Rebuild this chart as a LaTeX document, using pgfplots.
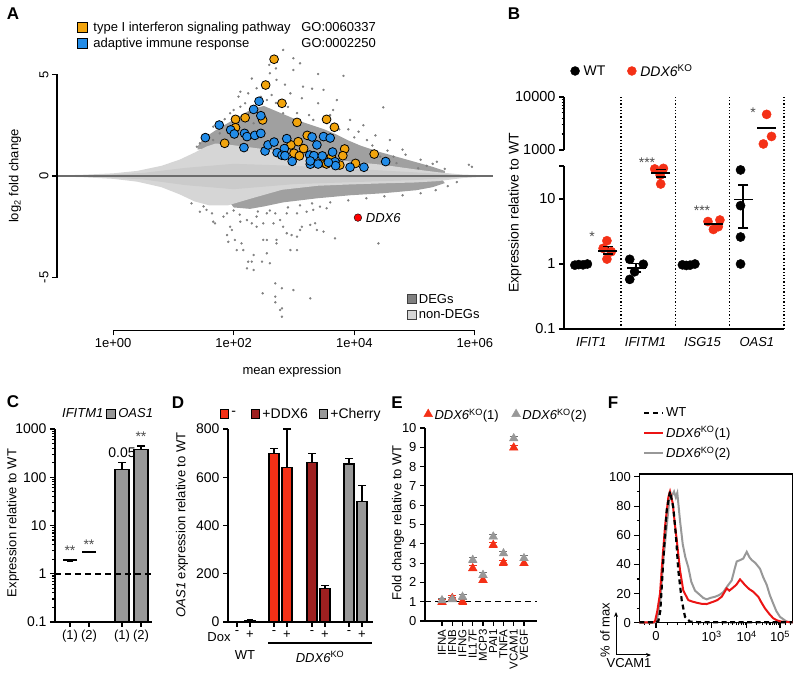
\documentclass[border=0pt]{standalone}
\usepackage{pgfplots}
\pgfplotsset{compat=1.18}
\usepackage{fontspec}
\setmainfont{Liberation Sans}
\usetikzlibrary{arrows.meta}
\newcommand{\fs}[1]{\fontsize{#1}{#1}\selectfont}
\newcommand{\lf}{\fs{13}}
\definecolor{cOr}{RGB}{242,164,12}
\definecolor{cBl}{RGB}{34,140,232}
\definecolor{cRed}{RGB}{244,48,22}
\definecolor{cDred}{RGB}{158,32,32}
\definecolor{cGr}{RGB}{152,152,152}
\definecolor{cDeg}{RGB}{128,128,128}
\definecolor{cBand}{RGB}{160,160,160}
\definecolor{cNon}{RGB}{214,214,214}
\definecolor{cCore}{RGB}{203,203,203}
\definecolor{cZero}{RGB}{108,108,108}
\definecolor{cFred}{RGB}{235,20,20}
\pgfplotsset{
  every axis/.append style={
    scale only axis, anchor=south west, clip=false,
    /pgf/number format/assume math mode=true,
    tick label style={font=\fs{13}},
    label style={font=\fs{13}},
    legend style={font=\fs{13}, draw=none, fill=none, inner sep=0pt, outer sep=0pt},
    legend cell align=left,
    tick style={black, line width=1.1pt},
    axis line style={black, line width=1.3pt},
    major tick length=5pt,
    minor tick length=2.5pt,
  },
}
\begin{document}
\begin{tikzpicture}
\path[use as bounding box] (0pt,0pt) rectangle (800pt,682pt);

%================ A ================
\begin{axis}[at={(57pt,351.7pt)}, width=436pt, height=288.3pt,
  xmin=-0.93, xmax=6.3, ymin=-7.6, ymax=6.6,
  axis x line*=bottom, axis y line*=left, axis line style={draw=none}, tick align=outside,
  xtick={0,2,4,6}, xticklabels={1e+00,1e+02,1e+04,1e+06},
  ytick={-5,0,5}, yticklabels={-5,0,5},
  yticklabel style={rotate=90, anchor=south},
  xlabel={mean expression}, ylabel={log\textsubscript{2} fold change},
  xlabel style={at={(axis description cs:0.539,0)}, anchor=north, yshift=-31pt},
  ylabel style={at={(axis description cs:-0.0963,0.535)}, anchor=center},
  legend style={at={(0.0459,1.0763)}, anchor=north west, row sep=1pt},
  legend image code/.code={\draw[#1, line width=0.8pt] (0pt,-4.8pt) rectangle (9.6pt,4.8pt);},
]
\addlegendimage{draw=black, fill=cOr}
\addlegendentry{\lf\hspace*{4pt}\makebox[208pt][l]{type I interferon signaling pathway}GO:0060337}
\addlegendimage{draw=black, fill=cBl}
\addlegendentry{\lf\hspace*{4pt}\makebox[208pt][l]{adaptive immune response}GO:0002250}
% DEG dense bands
\addplot[fill=cBand, draw=none] coordinates {(1.40,1.45) (1.5,1.85) (1.7,2.25) (1.9,2.6) (2.1,2.95) (2.3,3.3) (2.5,3.45) (2.7,3.2) (2.9,2.95) (3.1,2.7) (3.3,2.5) (3.5,2.3) (3.7,2.05) (3.9,1.75) (4.1,1.5) (4.4,1.2) (4.7,0.95) (5.0,0.7) (5.3,0.45) (5.5,0.25) (5.5,0.1) (4.5,0.45) (3.5,0.8) (2.5,1.2) (1.8,1.45) (1.4,1.3)} -- cycle;
\addplot[fill=cBand, draw=none] coordinates {(1.95,-1.35) (2.27,-1.1) (2.82,-0.62) (3.38,-0.42) (4.48,-0.34) (5.03,-0.27) (5.45,-0.15) (5.5,-0.35) (5.3,-0.55) (5.03,-0.7) (4.48,-0.85) (3.93,-0.95) (3.38,-1.1) (2.82,-1.3) (2.5,-1.5) (2.27,-1.62) (2.0,-1.55)} -- cycle;
% non-DEG cloud
\addplot[fill=cNon, draw=none] coordinates {(-0.85,0.03) (-0.5,0.06) (0,0.13) (0.4,0.25) (0.8,0.5) (1.1,0.8) (1.35,1.15) (1.55,1.45) (1.7,1.6) (1.9,1.55) (2.3,1.4) (2.8,1.2) (3.4,0.95) (3.9,0.72) (4.5,0.54) (5.0,0.33) (5.4,0.18) (5.8,0.07) (6.2,0.03) (6.2,-0.03) (5.8,-0.1) (5.4,-0.25) (5.0,-0.32) (4.5,-0.36) (3.9,-0.42) (3.4,-0.48) (2.8,-0.68) (2.3,-1.1) (1.9,-1.45) (1.6,-1.45) (1.35,-1.25) (1.1,-0.9) (0.8,-0.55) (0.4,-0.28) (0,-0.14) (-0.5,-0.06) (-0.85,-0.03)} -- cycle;
\addplot[fill=cCore, draw=none] coordinates {(-0.3,0.03) (0.5,0.15) (1.2,0.4) (2.0,0.6) (3.0,0.5) (4.0,0.35) (5.0,0.18) (5.8,0.04) (5.8,-0.05) (5.0,-0.2) (4.0,-0.3) (3.0,-0.4) (2.0,-0.65) (1.2,-0.45) (0.5,-0.17) (-0.3,-0.03)} -- cycle;
\addplot[cZero, line width=2.2pt] coordinates {(-0.93,0) (6.3,0)};
% scattered DEGs
\addplot[only marks, mark=*, mark size=1pt, cDeg, mark options={draw=none}] coordinates {
(2.82,6.21) (2.99,5.80) (3.10,5.55) (2.99,5.22) (2.59,5.47) (2.60,5.06) (2.71,4.73) (3.40,5.02) (3.82,4.93) (3.49,4.24) (4.48,3.38) (2.38,4.32) (2.24,4.07) (2.11,4.15) (2.08,3.91) (2.55,3.74) (2.63,3.99) (2.82,3.09) (2.94,4.07) (3.13,3.83) (3.40,3.58) (3.71,3.74) (3.65,3.25) (3.32,2.76) (3.93,2.76) (4.07,2.18) (4.21,1.77) (4.59,1.77) (4.65,0.95) (4.70,0.63) (5.37,0.70) (5.06,0.38) (4.43,0.95) (1.77,2.10) (1.66,1.77) (1.44,1.61) (1.39,1.44) (2.00,3.25) (2.19,3.58) (1.94,3.09) (2.11,3.41) (2.33,2.60) (1.66,2.43)
(2.45,3.9) (2.7,3.6) (2.9,3.4) (3.05,3.1) (3.25,3.0) (3.55,2.6) (3.75,2.3) (4.0,1.9) (4.3,1.5) (4.55,1.25) (4.85,1.05) (5.1,0.8) (5.3,0.6) (1.55,2.05) (1.75,2.55) (1.85,2.8) (2.05,2.7) (2.25,3.1) (3.15,4.4) (2.85,4.5) (2.5,4.6) (2.3,4.8) (2.7,5.3) (3.3,4.3) (3.6,3.0) (3.9,2.3) (4.15,2.5) (4.35,2.0) (4.8,1.3) (5.2,0.5) (5.5,0.35) (5.9,0.55) (5.95,0.45)
(1.44,-1.76) (1.55,-1.67) (1.64,-1.84) (1.66,-2.25) (1.69,-2.33) (1.83,-2.00) (1.89,-1.84) (1.94,-2.50) (1.97,-2.66) (1.89,-2.91) (1.91,-3.24) (2.02,-3.15) (2.13,-3.32) (2.05,-3.65) (2.16,-3.65) (2.24,-4.22) (2.30,-4.22) (2.33,-3.89) (2.22,-4.55) (2.33,-4.63) (2.47,-4.22) (2.55,-3.81) (2.60,-4.30) (2.49,-3.15) (2.55,-3.15) (2.71,-3.15) (2.71,-3.32) (2.88,-2.82) (2.96,-2.91) (2.94,-3.65) (3.05,-3.65) (3.05,-2.99) (3.10,-2.66) (3.13,-2.50) (3.27,-2.41) (3.35,-2.33) (3.38,-2.66) (3.49,-2.74) (3.68,-3.07) (4.40,-3.32) (2.69,-5.29) (2.80,-5.53) (2.99,-5.62) (2.48,-5.78) (2.69,-5.94) (3.27,-6.03) (2.77,-6.60) (2.80,-6.93) (2.69,-6.22) (2.80,-6.52) (2.30,-2.33) (2.38,-2.50) (2.49,-2.33) (2.66,-2.33) (2.77,-2.17) (2.82,-2.50) (2.11,-2.25) (2.22,-2.17) (2.38,-2.00) (2.55,-1.84) (2.69,-1.84) (2.88,-1.84) (3.05,-1.84) (3.21,-1.76) (3.32,-1.67) (3.43,-1.51) (3.54,-1.59)
(2.0,-1.7) (2.1,-1.9) (2.4,-1.75) (2.6,-1.7) (2.9,-1.55) (3.1,-1.45) (3.3,-1.35) (3.6,-1.3) (3.9,-1.2) (4.2,-1.1) (4.5,-1.0) (4.8,-0.95) (5.1,-0.85) (5.35,-0.7) (5.55,-0.5) (5.7,-0.3) (1.5,-1.5) (1.3,-1.35)
};
% GO genes
\addplot[only marks, mark=*, mark size=4.4pt, mark options={fill=cOr, draw=black, line width=0.8pt}] coordinates {
(2.67,5.75) (2.53,4.48) (2.80,3.58) (2.03,2.79) (2.19,2.87) (2.48,2.76) (2.03,2.38) (1.85,1.61) (3.05,2.64) (3.54,2.79) (3.67,2.40) (3.22,2.00) (2.95,1.53) (3.07,1.69) (3.16,1.35) (3.00,1.12) (3.09,0.99) (3.84,1.33) (3.81,1.00) (3.62,0.94) (3.48,0.66) (3.54,0.59) (3.76,0.54) (4.02,0.62) (4.33,1.08)};
\addplot[only marks, mark=*, mark size=4.4pt, mark options={fill=cBl, draw=black, line width=0.8pt}] coordinates {
(2.42,3.68) (2.33,3.28) (2.45,2.97) (1.76,2.51) (1.53,1.89) (1.95,2.27) (2.01,2.07) (2.18,2.10) (2.22,1.94) (2.35,2.00) (2.45,2.10) (2.17,1.40) (2.52,1.23) (2.57,1.53) (2.67,1.67) (2.88,1.84) (3.30,1.92) (3.49,1.94) (3.60,1.87) (3.38,1.53) (2.84,1.35) (2.72,1.15) (2.80,1.02) (2.85,1.00) (2.97,0.72) (3.26,1.03) (3.33,1.00) (3.27,0.58) (3.27,0.74) (3.47,0.99) (3.40,0.59) (3.64,1.18) (3.68,0.70) (3.69,0.51) (3.57,0.67) (3.93,0.43) (4.16,0.43) (4.52,0.71)};
\addplot[only marks, mark=*, mark size=3.8pt, mark options={fill=red, draw=none}] coordinates {(4.06,-2.05)};
\node[anchor=west, inner sep=0pt, font=\fs{13}\itshape] at (axis cs:4.19,-2.05) {DDX6};
\draw[line width=1.3pt] (axis cs:-0.93,-5) -- (axis cs:-0.93,5);
\draw[line width=1.3pt] (axis cs:0,-7.6) -- (axis cs:6,-7.6);
\end{axis}
\begin{axis}[at={(57pt,351.7pt)}, width=436pt, height=288.3pt, hide axis,
  xmin=0, xmax=1, ymin=0, ymax=1,
  legend style={at={(0.803,0.133)}, anchor=north west, row sep=1pt},
  legend image code/.code={\draw[#1, line width=0.8pt] (0pt,-4.5pt) rectangle (9pt,4.5pt);},
]
\addlegendimage{draw=black!75, fill=cDeg}
\addlegendentry{\lf DEGs}
\addlegendimage{draw=black!75, fill=cNon}
\addlegendentry{\lf non-DEGs}
\end{axis}

%================ B ================
\begin{axis}[at={(564pt,353pt)}, width=220pt, height=163pt,
  xmin=-0.05, xmax=4, ymode=log, ymin=0.1, ymax=32.2,
  axis x line*=bottom, axis y line*=left, tick align=outside,
  xtick={0.45,1.45,2.5,3.5}, xticklabels={\textit{IFIT1},\textit{IFITM1},\textit{ISG15},\textit{OAS1}},
  major x tick style={draw=none},
  ytick={0.1,1,10,32.2}, yticklabels={0.1,1,10,{}},
  yticklabel style={font=\fs{14.5}},
  ylabel={Expression relative to WT},
  ylabel style={at={(axis description cs:-0.223,0.712)}, anchor=center, font=\fs{14}},
  legend style={at={(0.03,1.583)}, anchor=west, legend columns=2, /tikz/every even column/.append style={column sep=20pt}},
  legend image code/.code={\draw[#1] plot coordinates {(4.5pt,0pt)};},
]
\addlegendimage{only marks, mark=*, mark size=4.5pt, black}
\addlegendentry{\fs{14}\hspace*{2pt}WT}
\addlegendimage{only marks, mark=*, mark size=4.5pt, cRed}
\addlegendentry{\fs{14}\hspace*{2pt}\textit{DDX6}\textsuperscript{KO}}
\addplot[only marks, mark=*, mark size=4.6pt, black] coordinates {
(0.15,0.96) (0.22,0.98) (0.30,0.97) (0.38,1.0)
(1.16,1.18) (1.41,0.99) (1.25,0.76) (1.16,0.58)
(2.13,0.97) (2.20,0.95) (2.27,0.96) (2.36,1.0)
(3.20,28) (3.20,7.9) (3.20,2.6) (3.20,1.0)};
\addplot[only marks, mark=*, mark size=4.6pt, cRed] coordinates {
(0.74,2.28) (0.67,1.74) (0.82,1.55) (0.74,1.19)
(1.62,29) (1.78,29.6) (1.72,23.3) (1.73,17)
(2.60,4.5) (2.82,4.75) (2.70,3.4) (2.79,3.75)};
\addplot[only marks, mark=-, mark size=9.5pt, line width=1.8pt, black] coordinates {(1.28,0.88) (3.25,9.8) (0.756,1.6) (1.73,25) (2.71,4.1)};
\addplot[black, line width=1.6pt, mark=-, mark size=5pt] coordinates {(0.756,1.43) (0.756,1.85)};
\addplot[black, line width=1.6pt, mark=-, mark size=5pt] coordinates {(1.28,0.76) (1.28,1.02)};
\addplot[black, line width=1.6pt, mark=-, mark size=5pt] coordinates {(1.73,22) (1.73,28.5)};
\addplot[black, line width=1.6pt, mark=-, mark size=5pt] coordinates {(3.25,3.6) (3.25,16.4)};
\draw[line width=1.3pt, dotted] (axis cs:1,0.1) -- (axis cs:1,372);
\draw[line width=1.3pt, dotted] (axis cs:2,0.1) -- (axis cs:2,372);
\draw[line width=1.3pt, dotted] (axis cs:3,0.1) -- (axis cs:3,372);
\draw[line width=1.3pt, dotted] (axis cs:4,0.1) -- (axis cs:4,372);
\end{axis}
\begin{axis}[at={(564pt,532pt)}, width=220pt, height=53pt,
  xmin=-0.05, xmax=4, ymode=log, ymin=1000, ymax=10000,
  axis x line=none, axis y line*=left, tick align=outside,
  xtick=\empty, ytick={1000,10000}, yticklabels={1000,10000},
  yticklabel style={font=\fs{14.5}},
]
\addplot[only marks, mark=*, mark size=4.6pt, cRed] coordinates {(3.68,4700) (3.62,1300) (3.77,1800)};
\addplot[only marks, mark=-, mark size=9.5pt, line width=1.8pt, black] coordinates {(3.67,2600)};
\end{axis}
\node[font=\fs{14}, text=black!70] at (592pt,445pt) {*};
\node[font=\fs{14}, text=black!70] at (647pt,519pt) {***};
\node[font=\fs{14}, text=black!70] at (702pt,471pt) {***};
\node[font=\fs{14}, text=black!70] at (753pt,569pt) {*};

%================ C ================
\begin{axis}[at={(55pt,60pt)}, width=97pt, height=193pt,
  xmin=0, xmax=97, ymode=log, ymin=0.1, ymax=1000, log origin=infty,
  axis x line*=bottom, axis y line*=left, tick align=outside,
  xtick={15,34,67,86}, xticklabels={(1),(2),(1),(2)},
  ytick={0.1,1,10,100,1000}, yticklabels={0.1,1,10,100,1000},
  yticklabel style={font=\fs{14}},
  minor ytick={0.2,0.3,0.4,0.5,0.6,0.7,0.8,0.9,2,3,4,5,6,7,8,9,20,30,40,50,60,70,80,90,200,300,400,500,600,700,800,900},
  ylabel={Expression relative to WT},
  ylabel style={at={(axis description cs:-0.433,0.513)}, anchor=center},
  legend style={at={(-0.05,1.078)}, anchor=west, legend columns=2, /tikz/every even column/.append style={column sep=1pt}},
  legend image code/.code={\draw[#1, line width=1pt] (0pt,-4.5pt) rectangle (9pt,4.5pt);},
]
\addlegendimage{draw=white, fill=white}
\addlegendentry{\lf\textit{IFITM1}}
\addlegendimage{draw=black, fill=cGr}
\addlegendentry{\lf\textit{OAS1}}
\addplot[ybar, bar shift=0pt, bar width=14pt, fill=cGr, draw=black, line width=1.3pt] coordinates {(67,145) (86,380)};
\addplot[black, line width=1.3pt, mark=-, mark size=4pt] coordinates {(67,145) (67,200)};
\addplot[black, line width=1.3pt, mark=-, mark size=4pt] coordinates {(86,380) (86,445)};
\addplot[only marks, mark=-, mark size=7pt, line width=1.8pt, black] coordinates {(15,1.95) (34,2.85)};
\addplot[black, line width=1.1pt, mark=-, mark size=3pt] coordinates {(15,1.84) (15,1.95)};
\addplot[black, line width=1.1pt, mark=-, mark size=3pt] coordinates {(34,2.72) (34,2.85)};
\addplot[black, line width=1.6pt, dash pattern=on 6pt off 4pt] coordinates {(0,1) (97,1)};
\end{axis}
\node[font=\fs{14}, text=black!70] at (70pt,131pt) {**};
\node[font=\fs{14}, text=black!70] at (89pt,137pt) {**};
\node[font=\fs{14}] at (122pt,229pt) {0.05};
\node[font=\fs{14}, text=black!70] at (141pt,245pt) {**};

%================ D ================
\begin{axis}[at={(228pt,60pt)}, width=145pt, height=193pt,
  xmin=0, xmax=145, ymin=0, ymax=800,
  axis x line*=bottom, axis y line*=left, tick align=outside,
  xtick={9,22,46,59,84,97,121,134}, xticklabels={-,+,-,+,-,+,-,+},
  ytick={0,200,400,600,800},
  yticklabel style={font=\fs{14}},
  ylabel={\textit{OAS1} expression relative to WT},
  ylabel style={at={(axis description cs:-0.317,0.503)}, anchor=center},
  legend style={at={(-0.055,1.078)}, anchor=west, legend columns=3, /tikz/every even column/.append style={column sep=9pt}},
  legend image code/.code={\draw[#1, line width=1pt] (0pt,-4.2pt) rectangle (8.4pt,4.2pt);},
]
\addlegendimage{draw=black, fill=cRed}
\addlegendentry{\fs{14}-\hspace*{4pt}}
\addlegendimage{draw=black, fill=cDred}
\addlegendentry{\fs{14}+DDX6}
\addlegendimage{draw=black, fill=cGr}
\addlegendentry{\fs{14}+Cherry}
\addplot[ybar, bar shift=0pt, bar width=10pt, fill=cRed, draw=black, line width=1.2pt] coordinates {(9,2) (22,5) (46,697) (59,640)};
\addplot[ybar, bar shift=0pt, bar width=10pt, fill=cDred, draw=black, line width=1.2pt] coordinates {(84,660) (97,140)};
\addplot[ybar, bar shift=0pt, bar width=10pt, fill=cGr, draw=black, line width=1.2pt] coordinates {(121,655) (134,500)};
\addplot[black, line width=1.2pt, mark=-, mark size=3pt] coordinates {(22,5) (22,8)};
\addplot[black, line width=1.2pt, mark=-, mark size=4pt] coordinates {(46,697) (46,720)};
\addplot[black, line width=1.2pt, mark=-, mark size=4pt] coordinates {(59,640) (59,800)};
\addplot[black, line width=1.2pt, mark=-, mark size=4pt] coordinates {(84,660) (84,700)};
\addplot[black, line width=1.2pt, mark=-, mark size=4pt] coordinates {(97,140) (97,152)};
\addplot[black, line width=1.2pt, mark=-, mark size=4pt] coordinates {(121,655) (121,678)};
\addplot[black, line width=1.2pt, mark=-, mark size=4pt] coordinates {(134,500) (134,565)};
\end{axis}
\node[font=\fs{13}] at (219pt,44.7pt) {Dox};
\node[font=\fs{13}] at (245pt,27pt) {WT};
\draw[line width=1.1pt] (268pt,39pt) -- (372pt,39pt);
\node[font=\fs{13}] at (320pt,25pt) {\textit{DDX6}\textsuperscript{KO}};

%================ E ================
\begin{axis}[at={(425pt,61pt)}, width=112pt, height=193pt,
  xmin=-1.66, xmax=9.27, ymin=0, ymax=10,
  axis x line*=bottom, axis y line*=left, tick align=outside,
  xtick={0,...,8}, xticklabels={IFNA,IFNB,IFNG,IL17F,MCP3,PAI1,TNFA,VCAM1,VEGF},
  xticklabel style={rotate=90, anchor=east, font=\fs{11.5}},
  ytick={0,1,...,10},
  yticklabel style={font=\fs{13}},
  ylabel={Fold change relative to WT},
  ylabel style={at={(axis description cs:-0.241,0.508)}, anchor=center},
  legend style={at={(-0.01,1.067)}, anchor=west, legend columns=2, /tikz/every even column/.append style={column sep=11pt}},
  legend image code/.code={\draw[#1] plot coordinates {(4.5pt,1pt)};},
]
\addlegendimage{only marks, mark=triangle*, mark size=5pt, cRed}
\addlegendentry{\lf\textit{DDX6}\textsuperscript{KO}(1)}
\addlegendimage{only marks, mark=triangle*, mark size=5pt, cGr}
\addlegendentry{\lf\textit{DDX6}\textsuperscript{KO}(2)}
\addplot[black, line width=1.6pt, dash pattern=on 6pt off 4pt] coordinates {(-1.66,1) (9.27,1)};
\addplot[only marks, mark=triangle*, mark size=5pt, cRed,
  error bars/.cd, y dir=both, y fixed=0.12, error bar style={line width=1pt, cRed}, error mark options={rotate=90, mark size=4pt, line width=1pt, cRed}]
  coordinates {(0,0.98) (1,1.18) (2,1.0) (3,2.73) (4,2.12) (5,3.94) (6,3.02) (7,8.98) (8,2.99)};
\addplot[only marks, mark=triangle*, mark size=5pt, cGr,
  error bars/.cd, y dir=both, y fixed=0.12, error bar style={line width=1pt, black!55}, error mark options={rotate=90, mark size=4pt, line width=1pt, black!55}]
  coordinates {(0,1.07) (1,1.12) (2,1.25) (3,3.16) (4,2.38) (5,4.37) (6,3.5) (7,9.46) (8,3.25)};
\end{axis}

%================ F ================
\begin{axis}[at={(639.3pt,59.3pt)}, width=153.4pt, height=148.7pt,
  xmin=0, xmax=153.4, ymin=0, ymax=102,
  xtick pos=left, ytick pos=left, tick align=outside,
  xtick={16.7,72.4,107.4,140.7}, xticklabels={0,10\textsuperscript{3},10\textsuperscript{4},10\textsuperscript{5}},
  minor xtick={5,10,28,38,46,53,59,64,68,82.9,89.1,93.5,96.9,99.6,102.0,104.0,105.8,117.4,123.3,127.4,130.7,133.3,135.5,137.5,139.2,146,151},
  ytick={0,20,40,60,80,100}, minor ytick={10,30,50,70,90},
  legend style={at={(0.024,1.457)}, anchor=north west, row sep=4pt},
  legend image code/.code={\draw[#1] (0pt,0pt) -- (19pt,0pt);},
]
\addlegendimage{black, line width=2.2pt, dash pattern=on 5pt off 4pt}
\addlegendentry{\lf WT}
\addlegendimage{cFred, line width=2pt}
\addlegendentry{\lf\textit{DDX6}\textsuperscript{KO}(1)}
\addlegendimage{cGr, line width=2pt}
\addlegendentry{\lf\textit{DDX6}\textsuperscript{KO}(2)}
\addplot[cGr, line width=2pt] coordinates {(0,0) (15,0) (17.4,1) (21,15) (24,43) (27.4,66) (30.7,88.6) (32.5,87) (34.7,90) (36.5,86) (38,89) (40.7,70) (43.4,54) (46,45) (49,38) (52,28) (55.7,22) (60.7,19) (64,17) (67.4,16) (71,17) (75.7,17.8) (80,19) (84,21) (88,25) (92.4,29) (95,36) (97.4,42) (101,43) (104,44) (107.4,48.6) (110,45) (112.4,43) (116,41) (120.7,37) (124,31) (127.4,26) (130.5,19) (134,13) (137,8) (140.7,4) (147.4,0.7) (153.4,0.3)};
\addplot[cFred, line width=2pt] coordinates {(0,0.3) (14,0.3) (15.7,1) (18,8) (20.7,20) (23,42) (25.7,66) (29,86) (30.7,90) (33.4,82) (35.5,68) (37.4,57) (40.7,36) (44,22) (49,15.5) (53,14.5) (57.4,13.7) (62,13) (67.4,12.8) (74,14.4) (78,15.5) (82.4,17.8) (87.4,23.5) (90,22) (94,24.2) (97,26) (100.7,29.7) (103,28) (105.7,25.8) (110,23) (114,21.2) (119,17.8) (122,14) (125.7,9.8) (130,6) (134,3) (138,1.5) (142.4,0.7) (153.4,0.3)};
\addplot[black, line width=2.2pt, dash pattern=on 5pt off 3.5pt] coordinates {(0,0.3) (15,0.3) (19,1) (21,8) (24,43) (27.4,77) (30.7,90) (34,79) (36.7,59) (39,36) (42.4,15.5) (45.7,4) (50.7,0.7) (60,0.3) (80,0.3) (100,0.3) (120,0.3) (153.4,0.3)};
\end{axis}
\node[rotate=90, font=\fs{13}] at (605pt,52pt) {\% of max};
\draw[line width=1pt, -{Stealth[length=5pt,width=4pt]}] (616pt,27pt) -- (616pt,70pt);
\draw[line width=1pt, -{Stealth[length=5pt,width=4pt]}] (616pt,27pt) -- (651pt,27pt);
\node[font=\fs{13}] at (629pt,19pt) {VCAM1};

%================ panel letters ================
\node[font=\fs{17}\bfseries] at (13pt,668pt) {A};
\node[font=\fs{17}\bfseries] at (514pt,668pt) {B};
\node[font=\fs{17}\bfseries] at (13pt,280pt) {C};
\node[font=\fs{17}\bfseries] at (178pt,279pt) {D};
\node[font=\fs{17}\bfseries] at (397pt,279pt) {E};
\node[font=\fs{17}\bfseries] at (613pt,279pt) {F};
\end{tikzpicture}
\end{document}
